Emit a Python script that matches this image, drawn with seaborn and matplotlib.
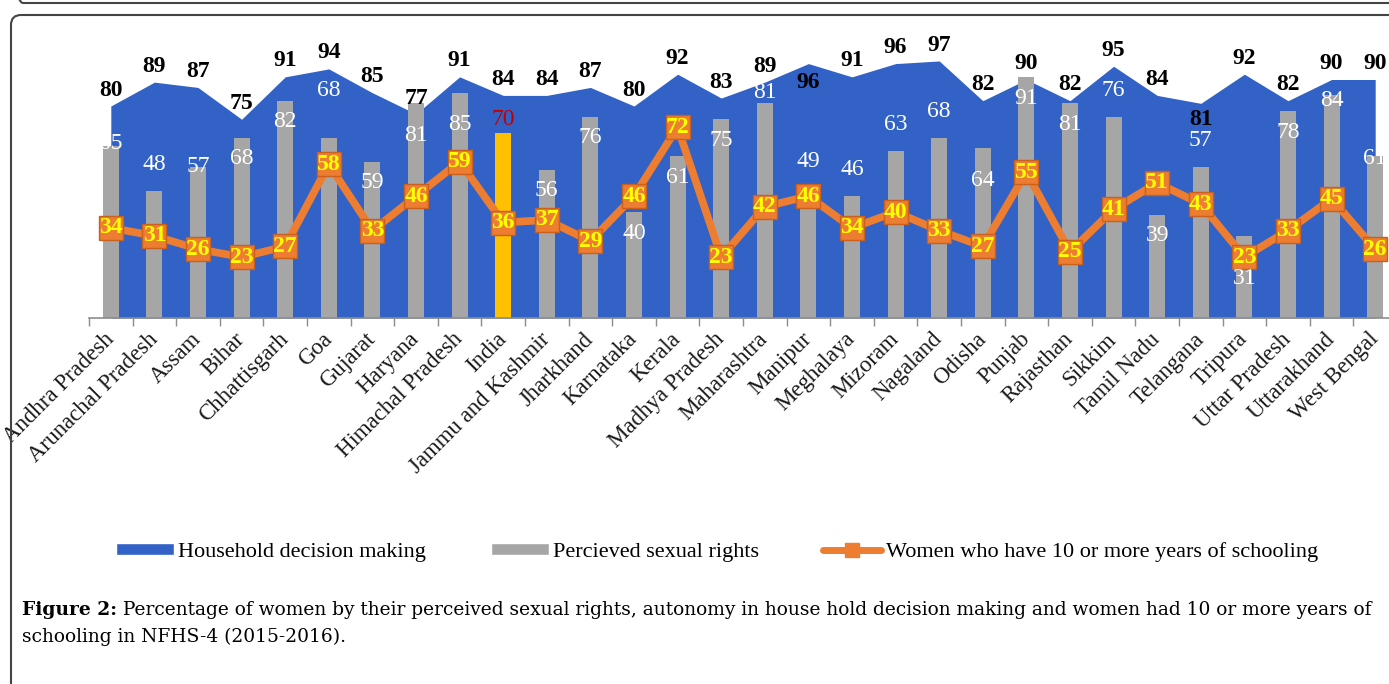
import numpy as np
import pandas as pd
import seaborn as sns
import matplotlib.pyplot as plt
from matplotlib.patches import FancyBboxPatch, Patch
from matplotlib.lines import Line2D
from matplotlib.transforms import ScaledTranslation

# данные (NFHS-4, 2015-2016)
states = ['Andhra Pradesh', 'Arunachal Pradesh', 'Assam', 'Bihar', 'Chhattisgarh', 'Goa',
          'Gujarat', 'Haryana', 'Himachal Pradesh', 'India', 'Jammu and Kashmir', 'Jharkhand',
          'Karnataka', 'Kerala', 'Madhya Pradesh', 'Maharashtra', 'Manipur', 'Meghalaya',
          'Mizoram', 'Nagaland', 'Odisha', 'Punjab', 'Rajasthan', 'Sikkim', 'Tamil Nadu',
          'Telangana', 'Tripura', 'Uttar Pradesh', 'Uttarakhand', 'West Bengal']
household = [80, 89, 87, 75, 91, 94, 85, 77, 91, 84, 84, 87, 80, 92, 83,
             89, 96, 91, 96, 97, 82, 90, 82, 95, 84, 81, 92, 82, 90, 90]
sexual_rights = [65, 48, 57, 68, 82, 68, 59, 81, 85, 70, 56, 76, 40, 61, 75,
                 81, 49, 46, 63, 68, 64, 91, 81, 76, 39, 57, 31, 78, 84, 61]
schooling = [34, 31, 26, 23, 27, 58, 33, 46, 59, 36, 37, 29, 46, 72, 23,
             42, 46, 34, 40, 33, 27, 55, 25, 41, 51, 43, 23, 33, 45, 26]

df = pd.DataFrame({'state': states, 'household': household,
                   'rights': sexual_rights, 'school': schooling})

# сдвиги подписей (как в исходной картинке)
household_nudge = {'Manipur': -13, 'Telangana': -12}
rights_nudge = {'Andhra Pradesh': 1, 'Arunachal Pradesh': 10, 'Assam': 0, 'Goa': 18,
                'India': 5, 'Maharashtra': 4, 'Manipur': 10, 'Meghalaya': 10,
                'Mizoram': 10, 'Nagaland': 10, 'Sikkim': 10, 'Telangana': 10,
                'Uttarakhand': -2, 'West Bengal': -1, 'Tripura': -16,
                'Haryana': -12, 'Himachal Pradesh': -12, 'Odisha': -12}

blue = '#3262c6'
gray = '#a6a6a6'
orange = '#ed7d31'
gold = '#ffc000'

sns.set_theme(style='white')
plt.rcParams['font.family'] = ['Liberation Serif', 'DejaVu Serif']
plt.rcParams['text.color'] = 'black'

fig = plt.figure(figsize=(13.89, 6.84), dpi=100)
ax = fig.add_axes([89 / 1389, 1 - 318 / 684, 1308 / 1389, 265 / 684])

pos = np.arange(len(states))
ax.fill_between(pos, df['household'], color=blue, linewidth=0, zorder=1)

bar_colors = {s: (gold if s == 'India' else gray) for s in states}
sns.barplot(data=df, x='state', y='rights', hue='state', palette=bar_colors,
            saturation=1, width=0.37, legend=False, linewidth=0, ax=ax, zorder=2)
sns.pointplot(data=df, x='state', y='school', color=orange, markers='s',
              linestyles='-', errorbar=None, linewidth=5.5, markersize=17,
              markeredgecolor='#c9611c', markeredgewidth=1, ax=ax)
for ln in ax.lines:
    ln.set_zorder(3)

for i, s in enumerate(states):
    h, r, sc = household[i], sexual_rights[i], schooling[i]
    ax.text(i, h + 6 + household_nudge.get(s, 0), str(h), ha='center', va='center',
            fontsize=17, fontweight='bold', color='black', zorder=5)
    ax.text(i, r + rights_nudge.get(s, -8), str(r), ha='center', va='center',
            fontsize=17, color='#c00000' if s == 'India' else 'white', zorder=5)
    ax.text(i, sc, str(sc), ha='center', va='center', fontsize=17,
            fontweight='bold', color='#ffff00', zorder=6)

ax.set_xlim(-0.5, len(states) - 0.5)
ax.set_ylim(0, 100)
ax.set_yticks([])
ax.set_xlabel('')
ax.set_ylabel('')
ax.set_facecolor('none')
for side in ['top', 'left', 'right']:
    ax.spines[side].set_visible(False)
ax.spines['bottom'].set_color('#8c8c8c')
ax.spines['bottom'].set_linewidth(1.2)
ax.set_xticks(pos)
ax.set_xticklabels(states, rotation=45, ha='right', va='center',
                   rotation_mode='anchor', fontsize=16.5, color='#1a1a1a')
shift = ScaledTranslation(5 / 72, -4 / 72, fig.dpi_scale_trans)
for lbl in ax.get_xticklabels():
    lbl.set_transform(lbl.get_transform() + shift)
ax.set_xticks(pos - 0.5, minor=True)
ax.tick_params(axis='x', which='major', length=0, pad=13)
ax.tick_params(axis='x', which='minor', length=6, width=1, color='#8c8c8c',
               direction='out', bottom=True)

handles = [Patch(facecolor=blue), Patch(facecolor=gray),
           Line2D([], [], color=orange, lw=5, marker='s', markersize=10)]
labels = ['Household decision making', 'Percieved sexual rights',
          'Women who have 10 or more years of schooling']
fig.legend(handles, labels, loc='center', bbox_to_anchor=(717 / 1389, 1 - 552 / 684),
           ncol=3, frameon=False, fontsize=16, handlelength=2.6, handleheight=0.5,
           handletextpad=0.2, columnspacing=2.9)

# подпись к рисунку
t1 = fig.text(22 / 1389, 1 - 610 / 684, 'Figure 2:', fontsize=13.4, fontweight='bold',
              family='DejaVu Serif', va='center')
ax.annotate(' Percentage of women by their perceived sexual rights, autonomy in house hold '
            'decision making and women had 10 or more years of',
            xy=(1, 0), xycoords=t1, va='bottom', fontsize=13.4, family='DejaVu Serif',
            annotation_clip=False)
fig.text(22 / 1389, 1 - 637 / 684, 'schooling in NFHS-4 (2015-2016).', fontsize=13.4,
         family='DejaVu Serif', va='center')

# рамки
fig.add_artist(FancyBboxPatch((0.13, 6.81), 16, 1, boxstyle='round,pad=0,rounding_size=0.1',
                              transform=fig.dpi_scale_trans, fill=False,
                              edgecolor='#444444', linewidth=1.5))
fig.add_artist(FancyBboxPatch((0.11, -1), 16, 7.69, boxstyle='round,pad=0,rounding_size=0.1',
                              transform=fig.dpi_scale_trans, fill=False,
                              edgecolor='#444444', linewidth=1.5))

plt.savefig('out.png', dpi=100)
